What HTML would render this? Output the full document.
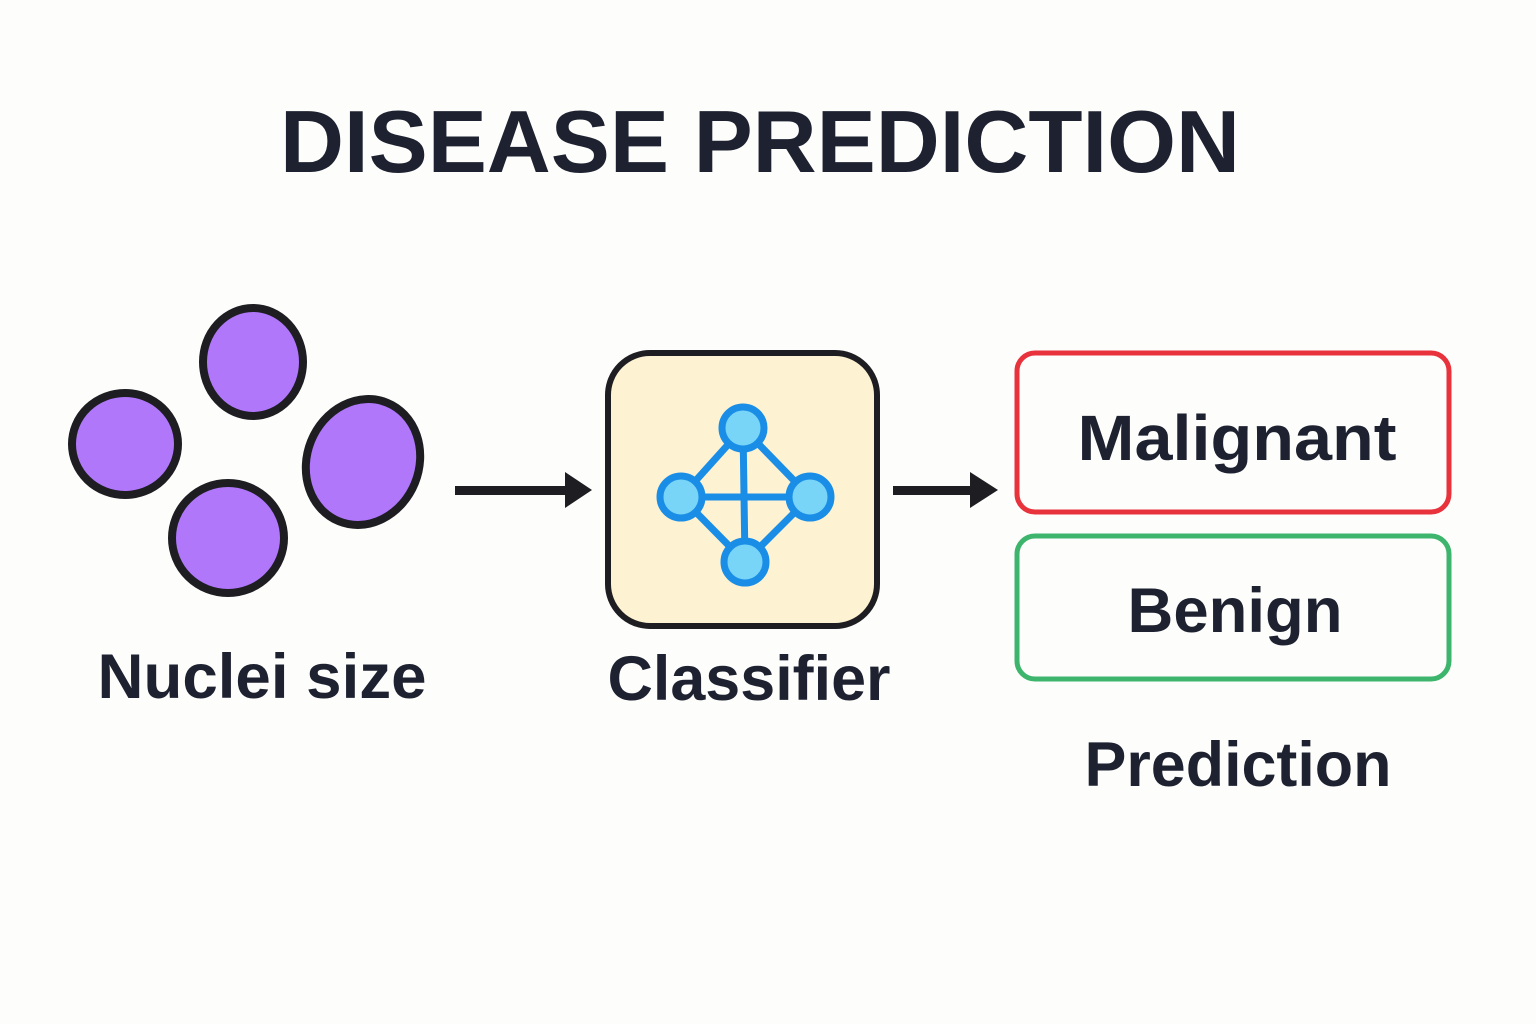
<!DOCTYPE html>
<html><head><meta charset="utf-8"><style>
body{margin:0;background:#fdfdfb;}
svg{display:block}
text{font-family:"Liberation Sans",sans-serif;font-weight:bold;fill:#1d2130;text-anchor:middle}
</style></head><body>
<svg width="1536" height="1024" viewBox="0 0 1536 1024">
<rect width="1536" height="1024" fill="#fdfdfb"/>
<text x="760" y="172" font-size="88" textLength="960" lengthAdjust="spacingAndGlyphs">DISEASE PREDICTION</text>
<g fill="#b077fb" stroke="#1d1d22" stroke-width="8">
<ellipse cx="253" cy="362" rx="50" ry="54"/>
<ellipse cx="125" cy="444" rx="53" ry="51"/>
<ellipse cx="228" cy="538" rx="56" ry="55"/>
<ellipse cx="363" cy="462" rx="56" ry="64" transform="rotate(22 363 462)"/>
</g>
<g fill="#1d1d22" stroke="none">
<rect x="455" y="486" width="112" height="9"/>
<polygon points="565,472 592,490 565,508"/>
<rect x="893" y="486" width="80" height="9"/>
<polygon points="970,472 998,490 970,508"/>
</g>
<rect x="608" y="353" width="269" height="273" rx="42" fill="#fdf3d3" stroke="#1d1d22" stroke-width="6"/>
<g stroke="#1a8ee6" stroke-width="7" fill="none">
<line x1="743" y1="428" x2="681" y2="497"/><line x1="743" y1="428" x2="810" y2="497"/>
<line x1="681" y1="497" x2="745" y2="562"/><line x1="810" y1="497" x2="745" y2="562"/>
<line x1="743" y1="428" x2="745" y2="562"/><line x1="681" y1="497" x2="810" y2="497"/>
</g>
<g fill="#78d5f7" stroke="#1a8ee6" stroke-width="7">
<circle cx="743" cy="428" r="21"/><circle cx="681" cy="497" r="21"/>
<circle cx="810" cy="497" r="21"/><circle cx="745" cy="562" r="21"/>
</g>
<rect x="1017" y="353" width="432" height="159" rx="18" fill="none" stroke="#e8323c" stroke-width="5"/>
<rect x="1017" y="536" width="432" height="143" rx="18" fill="none" stroke="#3db56c" stroke-width="5"/>
<text x="1237" y="460" font-size="64" textLength="319" lengthAdjust="spacingAndGlyphs">Malignant</text>
<text x="1235" y="632" font-size="63" textLength="215" lengthAdjust="spacingAndGlyphs">Benign</text>
<text x="262" y="698" font-size="63" textLength="329" lengthAdjust="spacingAndGlyphs">Nuclei size</text>
<text x="749" y="700" font-size="63" textLength="283" lengthAdjust="spacingAndGlyphs">Classifier</text>
<text x="1238" y="786" font-size="63" textLength="307" lengthAdjust="spacingAndGlyphs">Prediction</text>
</svg>
</body></html>
